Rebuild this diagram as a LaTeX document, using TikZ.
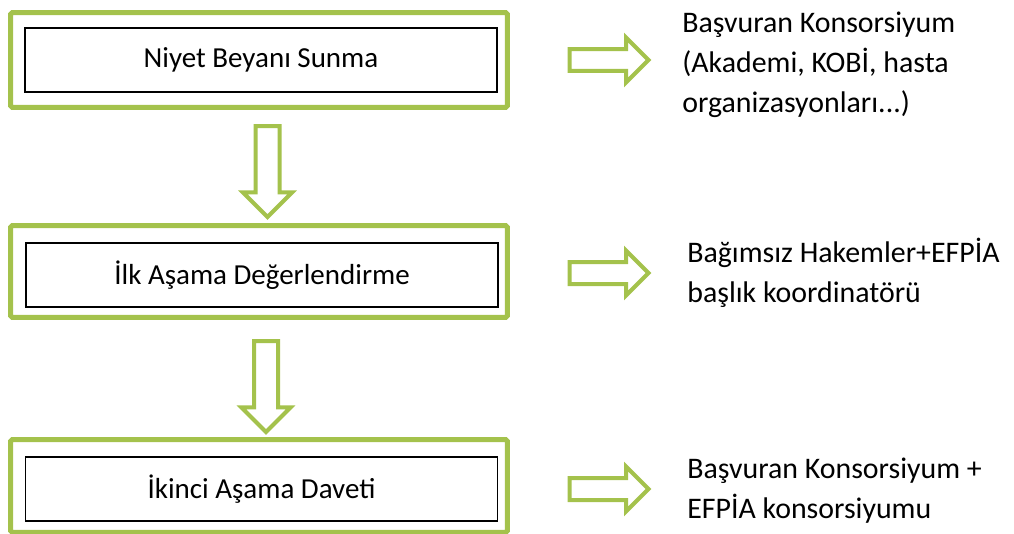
\documentclass[tikz,border=0pt]{standalone}
\usepackage{fontspec}
\setmainfont{Carlito}
\usetikzlibrary{shapes.arrows,positioning}
\definecolor{greenorg}{RGB}{164,194,76}

\begin{document}
\begin{tikzpicture}[x=0.02cm,y=-0.02cm]

    \tikzstyle{every node}=[font=\fontsize{16.5}{22}\selectfont]
    \tikzstyle{stage}=[draw=greenorg, line width=0.1cm, rounded corners=1pt, minimum width=9.94cm]
    \tikzstyle{stagebox}=[draw=black, line width=0.8pt, fill=white, minimum width=9.44cm, minimum height=1.28cm]
    \tikzstyle{downarrow}=[single arrow, draw=greenorg, fill=white, line width=0.08cm, inner sep=0.2cm, single arrow head extend=0.25cm, minimum height=1.82cm, rotate=-90]
    \tikzstyle{rightarrow}=[single arrow, draw=greenorg, fill=white, line width=0.08cm, inner sep=0.18cm, single arrow head extend=0.23cm, minimum height=1.58cm]
    \tikzstyle{who}=[anchor=base west, align=left, inner sep=0pt, font=\fontsize{17}{22.7}\selectfont]

    \useasboundingbox (0,0) rectangle (1014,534);

    % the three stages
    \node[stage, minimum height=1.9cm] (S1) at (259,60) {};
    \node[stage, minimum height=1.84cm] (S2) at (259,271.5) {};
    \node[stage, minimum height=1.86cm] (S3) at (259,486) {};

    \node[stagebox] (N1) at (261,60) {Niyet Beyanı Sunma};
    \node[stagebox] (N2) at (262,275) {İlk Aşama Değerlendirme};
    \node[stagebox] (N3) at (261.5,489) {İkinci Aşama Daveti};

    % arrows between the stages
    \node[downarrow] (D1) at (267.5,165.5) {};
    \node[downarrow] (D2) at (266,380.5) {};

    % arrows to the right
    \node[rightarrow] (R1) at (603.5,60) {};
    \node[rightarrow] (R2) at (603.5,273) {};
    \node[rightarrow] (R3) at (603.5,489) {};

    % base is the last line
    \node[who] (W1) at (682,112) {Başvuran Konsorsiyum\\(Akademi, KOBİ, hasta\\organizasyonları...)};
    \node[who] (W2) at (687,302) {Bağımsız Hakemler+EFPİA\\başlık koordinatörü};
    \node[who] (W3) at (687,518) {Başvuran Konsorsiyum +\\EFPİA konsorsiyumu};

\end{tikzpicture}
\end{document}
